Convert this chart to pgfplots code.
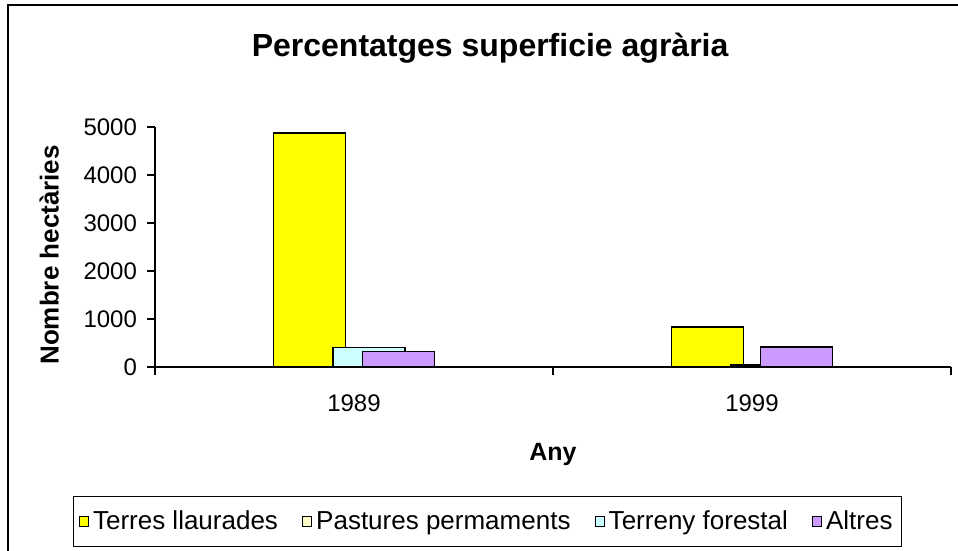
\documentclass[border=0pt]{standalone}
\usepackage{fontspec}
\setmainfont{Liberation Sans}
\usepackage{pgfplots}
\pgfplotsset{compat=1.18}
\definecolor{cTerres}{HTML}{FFFF00}
\definecolor{cPast}{HTML}{FFFFCC}
\definecolor{cFor}{HTML}{CCFFFF}
\definecolor{cAlt}{HTML}{CC99FF}
\begin{document}
\begin{tikzpicture}
\useasboundingbox (0,0) rectangle (479pt,-275.5pt);
\draw[line width=1.2pt] (4pt,-276pt) -- (4pt,-2.5pt) -- (480pt,-2.5pt);
\begin{axis}[
  at={(77.5pt,-183.5pt)}, anchor=south west,
  scale only axis, width=398pt, height=120pt,
  xmin=-0.5, xmax=1.5, ymin=0, ymax=5000,
  axis x line=bottom, axis y line=left,
  axis line style={-, line width=0.6pt},
  ytick={0,1000,2000,3000,4000,5000},
  tick align=outside,
  major tick length=4pt,
  tick style={black, line width=0.6pt},
  xtick={-0.5,0.5,1.5}, xticklabels={},
  extra x ticks={0,1}, extra x tick labels={1989,1999},
  extra x tick style={major tick length=0pt, xticklabel style={yshift=-10.5pt}},
  ticklabel style={font=\fontsize{12}{14}\selectfont},
  yticklabel style={xshift=-1.5pt},
  scaled ticks=false,
  /pgf/number format/.cd, 1000 sep={}, assume math mode=true, /pgfplots/.cd,
  ybar, bar width=0.181,
  title={Percentatges superficie agrària},
  title style={font=\bfseries\fontsize{16}{19}\selectfont, at={(axis description cs:0.421,1.342)}, anchor=center, yshift=-7.5pt},
  xlabel={Any},
  xlabel style={font=\bfseries\fontsize{12.5}{14}\selectfont, at={(axis description cs:0.5,-0.3625)}, anchor=center},
  ylabel={Nombre hectàries},
  ylabel style={font=\bfseries\fontsize{13}{15}\selectfont, at={(axis description cs:-0.133,0.467)}, anchor=center},
  legend columns=4,
  legend image code/.code={\draw[#1, line width=0.5pt] (0pt,-2.3pt) rectangle (4.6pt,2.3pt);},
  legend style={at={(0.418,-0.644)}, anchor=center, draw=black, thin,
    font=\fontsize{13}{15}\selectfont, inner xsep=2.5pt, inner ysep=5pt,
    /tikz/every even column/.append style={column sep=10pt}},
]
\addplot[fill=cTerres, draw=black, line width=0.8pt, bar shift=-0.1117] coordinates {(0,4870) (1,830)};
\addlegendentry{Terres llaurades}
\addplot[fill=cPast, draw=black, line width=0.8pt, bar shift=-0.0372] coordinates {(0,0) (1,0)};
\addlegendentry{Pastures permaments}
\addplot[fill=cFor, draw=black, line width=0.8pt, bar shift=0.0372] coordinates {(0,410) (1,40)};
\addlegendentry{Terreny forestal}
\addplot[fill=cAlt, draw=black, line width=0.8pt, bar shift=0.1117] coordinates {(0,325) (1,415)};
\addlegendentry{Altres}
\end{axis}
\end{tikzpicture}
\end{document}
